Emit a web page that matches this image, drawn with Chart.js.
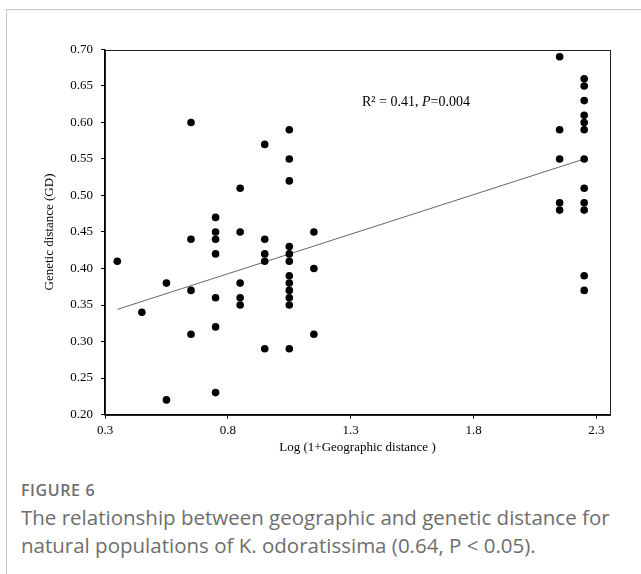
<!DOCTYPE html>
<html>
<head>
<meta charset="utf-8">
<script src="https://cdn.jsdelivr.net/npm/chart.js@4.4.1/dist/chart.umd.min.js"></script>
<style>
  html, body { margin: 0; padding: 0; background: #fff; }
  body { width: 641px; height: 574px; position: relative; overflow: hidden; }
  #frame { position: absolute; left: 6px; top: 9px; width: 700px; height: 600px;
           border-left: 1px solid #c8c8c8; border-top: 1px solid #c8c8c8; }
  #wrap { position: absolute; left: 0; top: 0; width: 641px; height: 470px; }
  #note { position: absolute; left: 362px; top: 94px; font: 14px 'Liberation Serif', 'Times New Roman', serif; color: #000; white-space: nowrap; }
  #fig { position: absolute; left: 21px; top: 479px; font: 600 16px 'Open Sans', sans-serif; letter-spacing: 0.6px; color: #6e6e6e; }
  #cap { position: absolute; left: 21px; top: 503px; font: 20.5px/28px 'Open Sans', sans-serif; color: #6e6e6e; white-space: nowrap; }
</style>
</head>
<body>
<div id="frame"></div>
<div id="wrap"><canvas id="c" width="641" height="470"></canvas></div>
<div id="note">R² = 0.41, <i>P</i>=0.004</div>
<div id="fig">FIGURE 6</div>
<div id="cap">The relationship between geographic and genetic distance for<br>natural populations of K. odoratissima (0.64, P &lt; 0.05).</div>
<script>
// Observed points: x = Log(1+Geographic distance), y = Genetic distance (GD)
const geoX = [
  0.35,
  0.45,
  0.55, 0.55,
  0.65, 0.65, 0.65, 0.65,
  0.75, 0.75, 0.75, 0.75, 0.75, 0.75, 0.75,
  0.85, 0.85, 0.85, 0.85, 0.85,
  0.95, 0.95, 0.95, 0.95, 0.95,
  1.05, 1.05, 1.05, 1.05, 1.05, 1.05, 1.05, 1.05, 1.05, 1.05, 1.05, 1.05,
  1.15, 1.15, 1.15,
  2.15, 2.15, 2.15, 2.15, 2.15,
  2.25, 2.25, 2.25, 2.25, 2.25, 2.25, 2.25, 2.25, 2.25, 2.25, 2.25, 2.25
];
const genY = [
  0.41,
  0.34,
  0.38, 0.22,
  0.60, 0.44, 0.37, 0.31,
  0.47, 0.45, 0.44, 0.42, 0.36, 0.32, 0.23,
  0.51, 0.45, 0.38, 0.36, 0.35,
  0.57, 0.44, 0.42, 0.41, 0.29,
  0.59, 0.55, 0.52, 0.43, 0.42, 0.41, 0.39, 0.38, 0.37, 0.36, 0.35, 0.29,
  0.45, 0.40, 0.31,
  0.69, 0.59, 0.55, 0.49, 0.48,
  0.66, 0.65, 0.63, 0.61, 0.60, 0.59, 0.55, 0.51, 0.49, 0.48, 0.39, 0.37
];
// Trend line endpoints
const trendX = [0.35, 2.25];
const trendY = [0.344, 0.55];
// Axis ticks
const xTicks = [0.3, 0.8, 1.3, 1.8, 2.3];
const yTicks = [0.20, 0.25, 0.30, 0.35, 0.40, 0.45, 0.50, 0.55, 0.60, 0.65, 0.70];
const xTitle = 'Log (1+Geographic distance )';
const yTitle = 'Genetic distance (GD)';

const points = geoX.map((x, i) => ({ x: x, y: genY[i] }));
const trend = trendX.map((x, i) => ({ x: x, y: trendY[i] }));

const serif = "'Liberation Serif', 'Times New Roman', serif";

const boxPlugin = {
  id: 'box',
  beforeDatasetsDraw(chart) {
    const a = chart.chartArea, ctx = chart.ctx;
    ctx.save();
    ctx.strokeStyle = '#222';
    ctx.lineWidth = 1;
    ctx.strokeRect(Math.round(a.left) + 0.5, Math.round(a.top) + 0.5,
                   Math.round(a.right - a.left), Math.round(a.bottom - a.top));
    ctx.restore();
  }
};

new Chart(document.getElementById('c'), {
  type: 'scatter',
  data: {
    datasets: [
      {
        label: 'Trend',
        type: 'line',
        data: trend,
        showLine: true,
        borderColor: '#555',
        borderWidth: 0.9,
        pointRadius: 0,
        fill: false,
        order: 2
      },
      {
        label: 'GD',
        data: points,
        backgroundColor: '#000',
        borderColor: '#000',
        borderWidth: 0,
        pointRadius: 3.8,
        order: 1
      }
    ]
  },
  options: {
    responsive: false,
    animation: false,
    devicePixelRatio: 1,
    layout: { padding: { left: 35, right: 31, top: 49.5, bottom: 5.5 } },
    plugins: { legend: { display: false }, tooltip: { enabled: false } },
    scales: {
      x: {
        type: 'linear',
        min: 0.3,
        max: 2.355,
        afterBuildTicks: s => { s.ticks = xTicks.map(v => ({ value: v })); },
        afterFit: s => { s.height = 50; },
        ticks: {
          callback: v => v.toFixed(1),
          font: { family: serif, size: 13 },
          color: '#000',
          padding: 4,
          maxRotation: 0
        },
        grid: { drawOnChartArea: false, drawTicks: true, tickLength: 4, color: '#000' },
        border: { display: true, color: '#000', width: 1.5 },
        title: { display: true, text: xTitle, font: { family: serif, size: 13 }, color: '#000', padding: { top: 0, bottom: 8.7 } }
      },
      y: {
        type: 'linear',
        min: 0.2,
        max: 0.7,
        afterBuildTicks: s => { s.ticks = yTicks.map(v => ({ value: v })); },
        afterFit: s => { s.width = 70; },
        ticks: {
          callback: v => v.toFixed(2),
          font: { family: serif, size: 13 },
          color: '#000',
          padding: 8
        },
        grid: { drawOnChartArea: false, drawTicks: true, tickLength: 4, color: '#000' },
        border: { display: true, color: '#000', width: 1.5 },
        title: { display: true, text: yTitle, font: { family: serif, size: 13 }, color: '#000', padding: { top: 7, bottom: 0 } }
      }
    }
  },
  plugins: [boxPlugin]
});
</script>
</body>
</html>
